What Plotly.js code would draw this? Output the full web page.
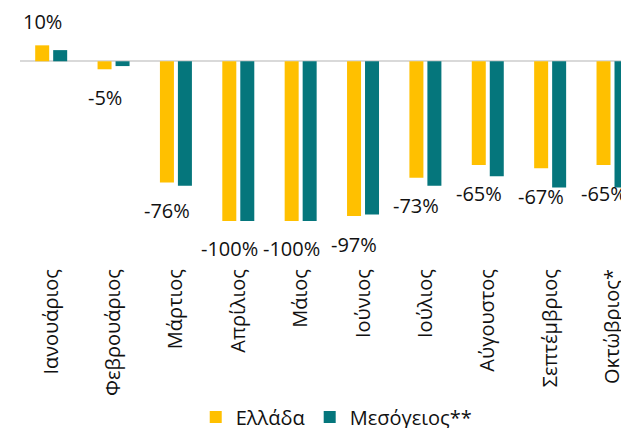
<!DOCTYPE html>
<html>
<head>
<meta charset="utf-8">
<script src="https://cdn.plot.ly/plotly-3.0.1.min.js"></script>
<style>
html, body { margin: 0; padding: 0; background: #ffffff; }
#chart { width: 621px; height: 428px; }
</style>
</head>
<body>
<div id="chart"></div>
<script>
var months = ["Ιανουάριος", "Φεβρουάριος", "Μάρτιος", "Απρίλιος", "Μάιος", "Ιούνιος", "Ιούλιος", "Αύγουστος", "Σεπτέμβριος", "Οκτώβριος*"];
var greece = [10, -5, -76, -100, -100, -97, -73, -65, -67, -65];
var mediterranean = [7, -3, -78, -100, -100, -96, -78, -72, -79, -79];
var greeceLabels = ["10%", "-5%", "-76%", "-100%", "-100%", "-97%", "-73%", "-65%", "-67%", "-65%"];

var FONT = "Open Sans, Noto Sans, sans-serif";

var traces = [
  {
    type: "bar",
    name: "Ελλάδα",
    x: months,
    y: greece,
    marker: { color: "#FFC000" },
    hoverinfo: "none"
  },
  {
    type: "bar",
    name: "Μεσόγειος**",
    x: months,
    y: mediterranean,
    marker: { color: "#05767C" },
    hoverinfo: "none"
  }
];

var annotations = months.map(function (m, i) {
  var v = greece[i];
  return {
    x: m,
    y: v,
    xref: "x",
    yref: "y",
    text: greeceLabels[i],
    showarrow: false,
    xshift: -9,
    yshift: v >= 0 ? 24 : -28,
    xanchor: "center",
    yanchor: "middle",
    font: { family: FONT, size: 20, color: "#111111" }
  };
});

var layout = {
  width: 621,
  height: 428,
  margin: { l: 20, r: 0, t: 0, b: 164, autoexpand: false },
  paper_bgcolor: "#ffffff",
  plot_bgcolor: "#ffffff",
  barmode: "group",
  bargap: 0.423,
  bargroupgap: 0.222,
  showlegend: true,
  legend: {
    orientation: "h",
    x: 0.527,
    xanchor: "center",
    y: -0.58,
    yanchor: "middle",
    font: { family: FONT, size: 20, color: "#111111" },
    traceorder: "normal"
  },
  xaxis: {
    type: "category",
    range: [-0.5, 9.136],
    tickangle: -90,
    ticks: "",
    showline: false,
    showgrid: false,
    automargin: false,
    tickfont: { family: FONT, size: 20, color: "#111111" }
  },
  yaxis: {
    range: [-127.0, 38.4],
    showticklabels: false,
    showgrid: false,
    ticks: "",
    zeroline: true,
    zerolinecolor: "#D9D9D9",
    zerolinewidth: 2,
    automargin: false
  },
  annotations: annotations
};

Plotly.newPlot("chart", traces, layout, { displayModeBar: false, staticPlot: true });
</script>
</body>
</html>
